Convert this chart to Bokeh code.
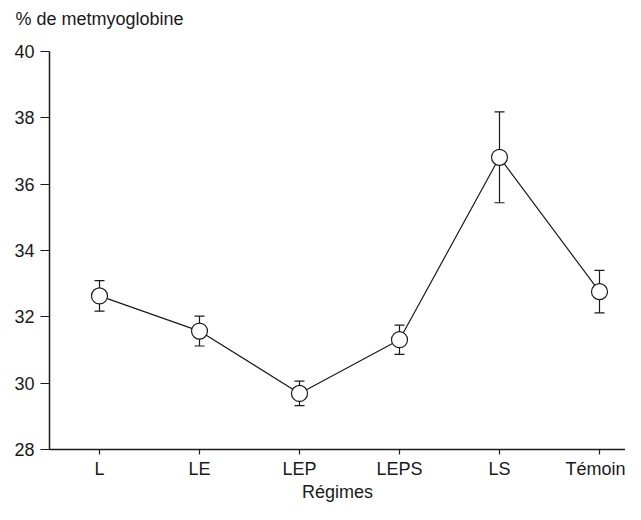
from bokeh.plotting import figure
from bokeh.models import ColumnDataSource, FixedTicker, Whisker, TeeHead, Range1d, Title
from bokeh.embed import file_html
from bokeh.resources import INLINE

categories = ["L", "LE", "LEP", "LEPS", "LS", "Témoin"]
means = [32.63, 31.57, 29.69, 31.31, 36.81, 32.76]
errors = [0.46, 0.45, 0.37, 0.44, 1.37, 0.64]
y_ticks = [28, 30, 32, 34, 36, 38, 40]
y_minor = [29, 31, 33, 35, 37, 39]

xs = list(range(len(categories)))
src = ColumnDataSource(dict(
    x=xs, y=means,
    lo=[m - e for m, e in zip(means, errors)],
    hi=[m + e for m, e in zip(means, errors)],
))

FONT = "Liberation Sans"
INK = "#1a1a1a"

p = figure(width=625, height=504, output_backend="svg", toolbar_location=None,
           x_range=Range1d(-0.5, 5.26), y_range=Range1d(28, 40), title=None,
           min_border_left=49, min_border_right=0, min_border_top=51, min_border_bottom=53)
p.outline_line_color = None
p.xgrid.visible = False
p.ygrid.visible = False

# spacer (innermost) then the y-axis caption above it
p.add_layout(Title(text=" ", text_font_size="1px", standoff=20), "above")
p.add_layout(Title(text="% de metmyoglobine", align="left", offset=-34, standoff=0,
                   text_font=FONT, text_font_size="18px", text_font_style="normal",
                   text_color=INK), "above")

p.line("x", "y", source=src, line_color=INK, line_width=1.2)
w = Whisker(source=src, base="x", lower="lo", upper="hi", line_color=INK, line_width=1.2,
            upper_head=TeeHead(size=10, line_color=INK, line_width=1.2),
            lower_head=TeeHead(size=10, line_color=INK, line_width=1.2))
w.level = "underlay"
p.add_layout(w)
p.scatter("x", "y", source=src, size=16, fill_color="white", line_color=INK, line_width=1.2)

# x axis
p.xaxis.ticker = FixedTicker(ticks=xs)
p.xaxis.major_label_overrides = {i: c for i, c in enumerate(categories)}
p.xaxis.major_tick_in = 0
p.xaxis.major_tick_out = 5
p.xaxis.major_label_standoff = 4
p.xaxis.axis_label = "Régimes"
p.xaxis.axis_label_standoff = 0
p.xaxis.axis_label_text_font_style = "normal"

# y axis
p.yaxis.ticker = FixedTicker(ticks=y_ticks, minor_ticks=y_minor)
p.yaxis.major_tick_in = 0
p.yaxis.major_tick_out = 9
p.yaxis.minor_tick_in = 0
p.yaxis.minor_tick_out = 5
p.yaxis.major_label_standoff = 6

for ax in (p.xaxis, p.yaxis):
    ax.axis_line_color = INK
    ax.axis_line_width = 1.5
    ax.major_tick_line_color = INK
    ax.major_tick_line_width = 1.2
    ax.minor_tick_line_color = INK if ax is p.yaxis else None
    ax.minor_tick_line_width = 1.2
    ax.major_label_text_font = FONT
    ax.major_label_text_font_size = "18px"
    ax.major_label_text_color = INK
    ax.axis_label_text_font = FONT
    ax.axis_label_text_font_size = "18px"
    ax.axis_label_text_color = INK

open("out.html", "w").write(file_html(p, INLINE))
